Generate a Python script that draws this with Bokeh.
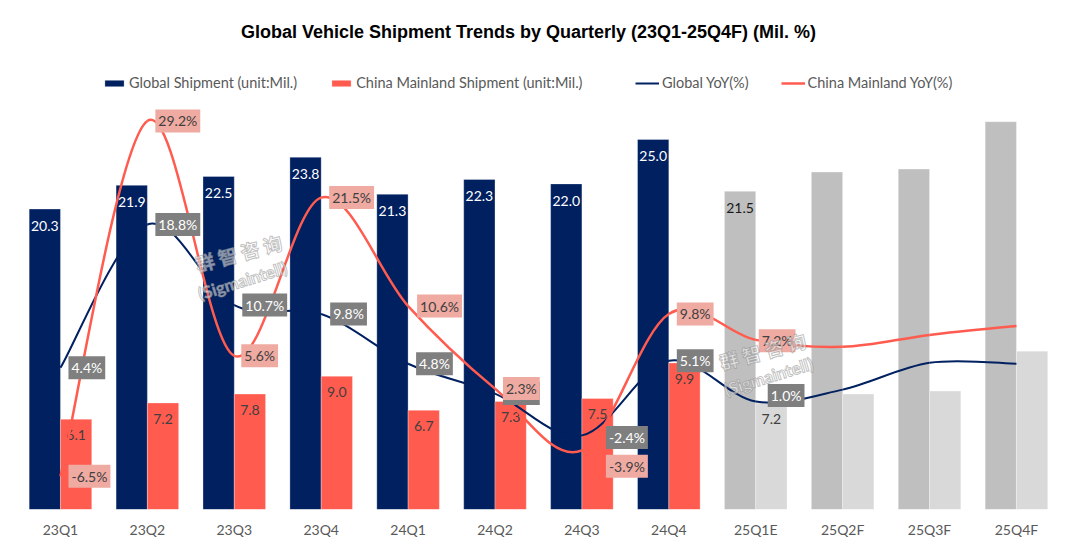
import numpy as np
from bokeh.plotting import figure
from bokeh.models import (ColumnDataSource, Range1d, FixedTicker, Legend,
                          LegendItem, Label)
from bokeh.transform import dodge
from bokeh.core.properties import value
from bokeh.embed import file_html
from bokeh.resources import INLINE

# ---------------- data ----------------
quarters = ["23Q1", "23Q2", "23Q3", "23Q4", "24Q1", "24Q2", "24Q3", "24Q4",
            "25Q1E", "25Q2F", "25Q3F", "25Q4F"]
global_ship = [20.3, 21.9, 22.5, 23.8, 21.3, 22.3, 22.0, 25.0, 21.5, 22.8, 23.0, 26.2]
china_ship = [6.1, 7.2, 7.8, 9.0, 6.7, 7.3, 7.5, 9.9, 7.2, 7.8, 8.0, 10.7]
global_yoy = [4.4, 18.8, 10.7, 9.8, 4.8, 1.8, -2.4, 5.1, 1.0, 2.2, 4.9, 4.8]
china_yoy = [-6.5, 29.2, 5.6, 21.5, 10.6, 2.3, -3.9, 9.8, 7.2, 6.5, 7.7, 8.6]
n_labeled = 9  # values labelled up to 25Q1E

# ---------------- layout constants ----------------
W, H = 1080, 556
BOTTOM = 47
FRAME_H = H - BOTTOM
X0, X1 = -0.69, 11.737
Y_MAX = 34.39
YOY_MIN, YOY_MAX = -9.85, 41.31

NAVY = "#002060"
RED = "#FF5B4F"
GRAY_FC = "#BFBFBF"
LGRAY_FC = "#D9D9D9"
FONT = "Lato"


def px2x(px):
    return X0 + px / W * (X1 - X0)


def py2y(py):
    return (FRAME_H - py) / FRAME_H * Y_MAX


p = figure(width=W, height=H, x_range=Range1d(X0, X1), y_range=Range1d(0, Y_MAX),
           output_backend="svg", toolbar_location=None, y_axis_location=None,
           min_border_left=0, min_border_right=0, min_border_top=0,
           min_border_bottom=BOTTOM)
p.extra_y_ranges = {"yoy": Range1d(YOY_MIN, YOY_MAX)}
p.grid.visible = False
p.outline_line_color = None
p.background_fill_color = "white"
p.border_fill_color = "white"

ax = p.xaxis[0]
ax.ticker = FixedTicker(ticks=list(range(len(quarters))))
ax.major_label_overrides = {i: q for i, q in enumerate(quarters)}
ax.axis_line_color = None
ax.major_tick_line_color = None
ax.minor_tick_line_color = None
ax.major_label_text_font = FONT
ax.major_label_text_font_size = "14px"
ax.major_label_text_color = "#595959"
ax.major_label_standoff = 5

xs = list(range(len(quarters)))
is_fc = [q.endswith(("E", "F")) for q in quarters]

bars = ColumnDataSource(dict(
    x=xs, g=global_ship, c=china_ship,
    gcol=[GRAY_FC if f else NAVY for f in is_fc],
    ccol=[LGRAY_FC if f else RED for f in is_fc],
))
BW = 0.36
rg = p.vbar(x=dodge("x", -BW / 2), top="g", width=BW, source=bars,
            fill_color="gcol", line_color="white", line_width=0.6, line_alpha=0.5)
rc = p.vbar(x=dodge("x", BW / 2), top="c", width=BW, source=bars,
            fill_color="ccol", line_color="white", line_width=0.6, line_alpha=0.5)

# bar value labels
lab = ColumnDataSource(dict(
    x=xs[:n_labeled], g=global_ship[:n_labeled], c=china_ship[:n_labeled],
    gt=[f"{v:.1f}" for v in global_ship[:n_labeled]],
    ct=[f"{v:.1f}" for v in china_ship[:n_labeled]],
    gtc=["#1a1a1a" if f else "white" for f in is_fc[:n_labeled]],
))
p.text(x=dodge("x", -BW / 2), y="g", text="gt", source=lab, text_align="center",
       text_baseline="middle", y_offset=17, text_color="gtc",
       text_font=value(FONT), text_font_size="14px")
p.text(x=dodge("x", BW / 2), y="c", text="ct", source=lab, text_align="center",
       text_baseline="middle", y_offset=16, text_color="#404040",
       text_font=value(FONT), text_font_size="14px")


# smooth lines (Bezier through the data points)
def bezier_src(xv, yv):
    xv = np.asarray(xv, float)
    yv = np.asarray(yv, float)
    n = len(xv)
    d = dict(x0=[], y0=[], x1=[], y1=[], cx0=[], cy0=[], cx1=[], cy1=[])
    for i in range(n - 1):
        a = i - 1 if i > 0 else i
        b = i + 2 if i + 2 < n else i + 1
        d["x0"].append(xv[i]); d["y0"].append(yv[i])
        d["x1"].append(xv[i + 1]); d["y1"].append(yv[i + 1])
        d["cx0"].append(xv[i] + (xv[i + 1] - xv[a]) / 6)
        d["cy0"].append(yv[i] + (yv[i + 1] - yv[a]) / 6)
        d["cx1"].append(xv[i + 1] - (xv[b] - xv[i]) / 6)
        d["cy1"].append(yv[i + 1] - (yv[b] - yv[i]) / 6)
    return ColumnDataSource(d)


lg = p.bezier(x0="x0", y0="y0", x1="x1", y1="y1", cx0="cx0", cy0="cy0", cx1="cx1",
              cy1="cy1", source=bezier_src(xs, global_yoy), y_range_name="yoy",
              line_color=NAVY, line_width=2)
lc = p.bezier(x0="x0", y0="y0", x1="x1", y1="y1", cx0="cx0", cy0="cy0", cx1="cx1",
              cy1="cy1", source=bezier_src(xs, china_yoy), y_range_name="yoy",
              line_color=RED, line_width=2.5)

# YoY labels
g_xoff = [8, 8, 8, 9, 8, 8, 24, 8, 12]
g_yoff = [0, 0, 0, 0, 0, 0, 2, 0, -6]
c_xoff = [8, 8, 7, 8, 9, 8, 24, 8, 3]
c_yoff = [0, 0, 0, 0, 0, 0, 16, 0, 1]
gsrc = ColumnDataSource(dict(x=xs[:n_labeled], y=global_yoy[:n_labeled],
                             t=[f"{v:.1f}%" for v in global_yoy[:n_labeled]],
                             xo=g_xoff, yo=g_yoff))
csrc = ColumnDataSource(dict(x=xs[:n_labeled], y=china_yoy[:n_labeled],
                             t=[f"{v:.1f}%" for v in china_yoy[:n_labeled]],
                             xo=c_xoff, yo=c_yoff))
p.text(x="x", y="y", text="t", x_offset="xo", y_offset="yo", source=gsrc,
       y_range_name="yoy", text_align="left", text_baseline="middle",
       text_color="white", text_font=value(FONT), text_font_size="14px",
       background_fill_color="#7F7F7F", padding=3)
p.text(x="x", y="y", text="t", x_offset="xo", y_offset="yo", source=csrc,
       y_range_name="yoy", text_align="left", text_baseline="middle",
       text_color="#404040", text_font=value(FONT), text_font_size="14px",
       background_fill_color="#EFAAA2", padding=3)

# watermark
for (cx, cy), (sx, sy) in [((238, 252), (242, 280)), ((762, 350), (768, 376))]:
    p.add_layout(Label(x=px2x(cx), y=py2y(cy), text="群 智 咨 询", angle=0.26,
                       text_align="center", text_baseline="middle",
                       text_font="Noto Sans CJK SC", text_font_style="bold",
                       text_font_size="19px", text_color="white", text_alpha=0.55,
                       text_outline_color="#8c8c8c"))
    p.add_layout(Label(x=px2x(sx), y=py2y(sy), text="(Sigmaintell)", angle=0.30,
                       text_align="center", text_baseline="middle",
                       text_font=FONT, text_font_style="bold",
                       text_font_size="17px", text_color="white", text_alpha=0.55,
                       text_outline_color="#8c8c8c"))

# title
p.add_layout(Label(x=px2x(528), y=py2y(31),
                   text="Global Vehicle Shipment Trends by Quarterly (23Q1-25Q4F) (Mil. %)",
                   text_align="center", text_baseline="middle",
                   text_font="Liberation Sans", text_font_style="bold",
                   text_font_size="18px", text_color="black"))

legend_style = dict(orientation="horizontal", glyph_width=24, glyph_height=8,
                    label_standoff=3, spacing=32, padding=0, margin=0,
                    border_line_color=None, background_fill_alpha=0,
                    label_text_font=FONT, label_text_font_size="14.5px",
                    label_text_color="#595959", label_height=16)
legend_bars = Legend(items=[
    LegendItem(label="Global Shipment (unit:Mil.)", renderers=[rg], index=0),
    LegendItem(label="China Mainland Shipment (unit:Mil.)", renderers=[rc], index=0),
], location=(102, FRAME_H - 91), **legend_style)
legend_lines = Legend(items=[
    LegendItem(label="Global YoY(%)", renderers=[lg]),
    LegendItem(label="China Mainland YoY(%)", renderers=[lc]),
], location=(635, FRAME_H - 91), **legend_style)
p.add_layout(legend_bars)
p.add_layout(legend_lines)

open("out.html", "w").write(file_html(p, INLINE))
